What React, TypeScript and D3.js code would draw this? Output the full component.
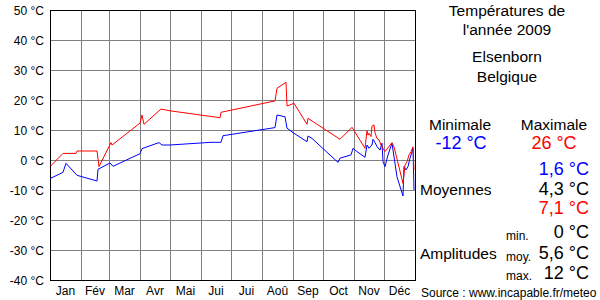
import React from "react";
import * as d3 from "d3";

const yTicks = [50, 40, 30, 20, 10, 0, -10, -20, -30, -40];
const monthStarts = [0, 31, 59, 90, 120, 151, 181, 212, 243, 273, 304, 334, 365];
const monthLabels = ["Jan", "Fév", "Mar", "Avr", "Mai", "Jui", "Jui", "Aoû", "Sep", "Oct", "Nov", "Déc"];

const maxDays = [0, 13, 26, 27, 47, 49, 61, 62, 90, 92, 94, 111, 120, 170, 171, 225, 227, 236, 237, 244, 257, 258, 290, 302, 315, 317, 318, 319, 321, 322, 324, 325, 327, 329, 331, 335, 342, 344, 353, 355, 357, 359, 361, 363, 364];
const maxTemps = [-2.2, 2.2, 2.2, 3, 3, -2.2, 5.8, 5, 12.3, 15, 11.9, 17, 16.4, 14.1, 15.9, 19.7, 23.9, 25.9, 18, 18.9, 11.9, 13.9, 6.9, 10.9, 3.9, 9.8, 8.3, 8.9, 7.8, 11.3, 11.7, 9.1, 7.2, 6.7, 5, 2.8, 5.8, 4.4, -7.8, -1.7, -0.6, 1.7, 2.8, 4.4, -3.3];

const minDays = [0, 13, 16, 27, 47, 48, 60, 63, 90, 92, 109, 112, 120, 161, 171, 173, 225, 227, 230, 235, 237, 244, 257, 258, 262, 288, 290, 301, 303, 307, 315, 317, 319, 322, 323, 325, 327, 330, 332, 333, 335, 338, 342, 343, 347, 348, 353, 354, 356, 358, 360, 362, 363, 364];
const minTemps = [-6.2, -4.1, -1.1, -5.1, -7, -3.1, -1, -2.1, 2.1, 3.8, 5.8, 5, 5, 5.9, 5.9, 8.1, 10.8, 15, 14.8, 14.4, 10.6, 8.9, 6.1, 8, 7.2, -0.8, 0.6, 1.7, 3.9, 2.8, 0.9, 5, 3.9, 5, 6.9, 5.8, 4.5, 3.3, 5.6, -0.6, -2.2, 1.7, 5.6, 3.3, -5.6, -6.7, -12, -2.2, -3.3, -2.2, 0.6, 2.8, 3.9, -10];

const FONT = "'Liberation Sans', Arial, sans-serif";

export default function App() {
  const x = d3.scaleLinear().domain([0, 365]).range([50, 415]);
  const y = d3.scaleLinear().domain([-40, 50]).range([280, 10]);
  const line = d3
    .line<[number, number]>()
    .x((d) => x(d[0]))
    .y((d) => y(d[1]));
  const maxPts: [number, number][] = maxDays.map((d, i) => [d, maxTemps[i]]);
  const minPts: [number, number][] = minDays.map((d, i) => [d, minTemps[i]]);

  const big = 18;
  const mid = 15.5;
  const small = 12;

  return (
    <svg
      width={600}
      height={300}
      style={{ position: "absolute", left: 0, top: 0, background: "#fff" }}
      fontFamily={FONT}
    >
      <rect x={0} y={0} width={600} height={300} fill="#fff" />
      {/* grid */}
      <g stroke="#808080" strokeWidth={1} shapeRendering="crispEdges">
        {yTicks.slice(1, -1).map((t) => (
          <line key={"h" + t} x1={50} x2={415} y1={y(t) + 0.5} y2={y(t) + 0.5} />
        ))}
        {monthStarts.slice(1, -1).map((m) => (
          <line key={"v" + m} x1={x(m) + 0.5} x2={x(m) + 0.5} y1={10} y2={280} />
        ))}
      </g>
      <rect x={50.5} y={10.5} width={365} height={270} fill="none" stroke="#000" strokeWidth={1} shapeRendering="crispEdges" />
      {/* y labels */}
      {yTicks.map((t) => (
        <text key={"yl" + t} x={44} y={y(t) + 4.5} textAnchor="end" fontSize={12} fill="#000">
          {t} °C
        </text>
      ))}
      {/* month labels */}
      {monthLabels.map((m, i) => (
        <text
          key={"m" + i}
          x={(x(monthStarts[i]) + x(monthStarts[i + 1])) / 2}
          y={295}
          textAnchor="middle"
          fontSize={12}
          fill="#000"
        >
          {m}
        </text>
      ))}
      {/* series */}
      <path d={line(minPts) || ""} fill="none" stroke="#0000ff" strokeWidth={1} />
      <path d={line(maxPts) || ""} fill="none" stroke="#ff0000" strokeWidth={1} />

      {/* right panel */}
      <g fill="#000">
        <text x={507} y={16} textAnchor="middle" fontSize={mid}>Températures de</text>
        <text x={507} y={35} textAnchor="middle" fontSize={mid}>l'année 2009</text>
        <text x={507} y={62} textAnchor="middle" fontSize={mid}>Elsenborn</text>
        <text x={507} y={82} textAnchor="middle" fontSize={mid}>Belgique</text>
        <text x={460} y={130} textAnchor="middle" fontSize={mid}>Minimale</text>
        <text x={554} y={130} textAnchor="middle" fontSize={mid}>Maximale</text>
        <text x={461} y={149} textAnchor="middle" fontSize={big} fill="#0000ff">-12 °C</text>
        <text x={554} y={149} textAnchor="middle" fontSize={big} fill="#ff0000">26 °C</text>
        <text x={589} y={175} textAnchor="end" fontSize={big} fill="#0000ff">1,6 °C</text>
        <text x={420} y={195} fontSize={mid}>Moyennes</text>
        <text x={589} y={195} textAnchor="end" fontSize={big}>4,3 °C</text>
        <text x={589} y={214} textAnchor="end" fontSize={big} fill="#ff0000">7,1 °C</text>
        <text x={506} y={240} fontSize={small}>min.</text>
        <text x={589} y={238} textAnchor="end" fontSize={big}>0 °C</text>
        <text x={420} y={259} fontSize={mid}>Amplitudes</text>
        <text x={506} y={261} fontSize={small}>moy.</text>
        <text x={589} y={259} textAnchor="end" fontSize={big}>5,6 °C</text>
        <text x={506} y={280} fontSize={small}>max.</text>
        <text x={589} y={279} textAnchor="end" fontSize={big}>12 °C</text>
        <text x={421} y={297} fontSize={small}>Source : www.incapable.fr/meteo</text>
      </g>
    </svg>
  );
}
